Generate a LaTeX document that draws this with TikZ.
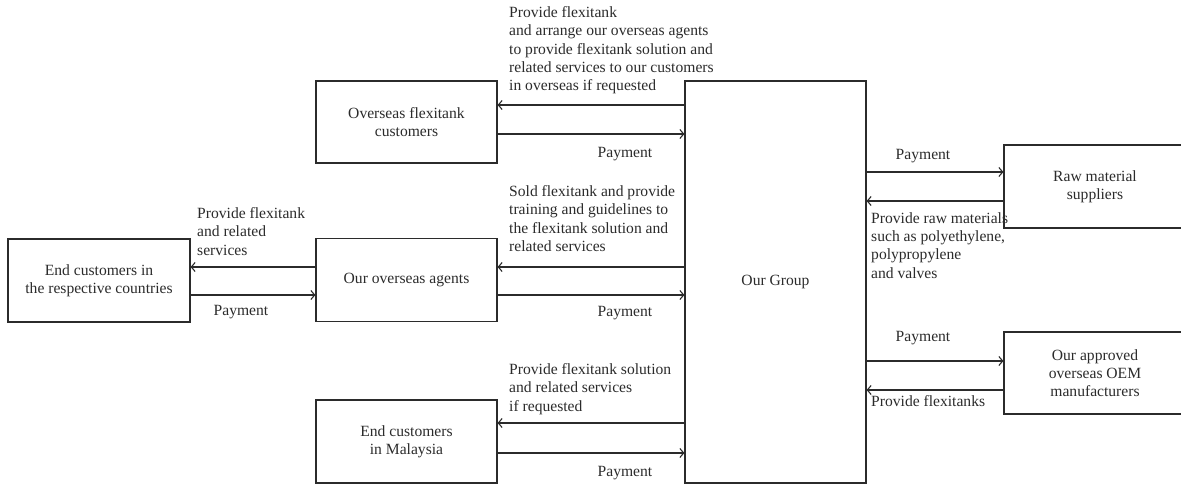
\documentclass[tikz,border=0pt]{standalone}
\usepackage{fontspec}
\setmainfont{Liberation Serif}
\usetikzlibrary{arrows.meta}
\definecolor{ink}{HTML}{2B2B2B}
\begin{document}
\begin{tikzpicture}[x=1pt,y=-1pt,
  font=\fontsize{15.6}{18.3}\selectfont,
  every node/.style={text=ink},
  box/.style={draw=ink, line width=1.2pt, minimum width=181pt,
    minimum height=82pt, align=center, inner sep=0pt},
  lbl/.style={align=left, anchor=north west, inner sep=0pt},
  pay/.style={inner sep=0pt},
  arr/.style={draw=ink, line width=1.1pt,
    -{Straight Barb[length=3.8pt,width=9pt]}}]
\clip (0,0) rectangle (1181,484);

% parties
\node[box] (over) at (406.5,122) {Overseas flexitank\\customers};
\node[box, minimum height=83pt] (agents) at (406.5,280) {Our overseas agents};
\node[box, minimum height=83pt] (malay) at (406.5,441.5) {End customers\\in Malaysia};
\node[box, minimum width=182pt, minimum height=83pt] (endc) at (99,280.5)
  {End customers in\\the respective countries};
\node[box, minimum height=402pt] (group) at (775.5,282) {Our Group};
\node[box, minimum width=182pt, minimum height=83pt] (raw) at (1095,186.5)
  {Raw material\\suppliers};
\node[box, minimum width=182pt] (oem) at (1095,373)
  {Our approved\\overseas OEM\\manufacturers};

% flows between the group and its customers
\draw[arr] (group.west |- 0,105) -- (over.east |- 0,105);
\draw[arr] (over.east |- 0,134) -- (group.west |- 0,134);
\draw[arr] (group.west |- 0,267) -- (agents.east |- 0,267);
\draw[arr] (agents.east |- 0,295) -- (group.west |- 0,295);
\draw[arr] (group.west |- 0,423) -- (malay.east |- 0,423);
\draw[arr] (malay.east |- 0,453) -- (group.west |- 0,453);
\draw[arr] (agents.west |- 0,267) -- (endc.east |- 0,267);
\draw[arr] (endc.east |- 0,295) -- (agents.west |- 0,295);

% flows between the group and its suppliers
\draw[arr] (group.east |- 0,172) -- (raw.west |- 0,172);
\draw[arr] (raw.west |- 0,201) -- (group.east |- 0,201);
\draw[arr] (group.east |- 0,361) -- (oem.west |- 0,361);
\draw[arr] (oem.west |- 0,390) -- (group.east |- 0,390);

% flow labels
\node[lbl] (l1) at (509,6.3) {Provide flexitank\\and arrange our overseas agents\\to provide flexitank solution and\\related services to our customers\\in overseas if requested};
\node[lbl] (l2) at (509,185.3) {Sold flexitank and provide\\training and guidelines to\\the flexitank solution and\\related services};
\node[lbl] (l3) at (509,363.3) {Provide flexitank solution\\and related services\\if requested};
\node[lbl] (l4) at (197,207.3) {Provide flexitank\\and related\\services};
\node[lbl] (l5) at (871,212.3) {Provide raw materials\\such as polyethylene,\\polypropylene\\and valves};
\node[lbl] (l6) at (871,395.3) {Provide flexitanks};

\node[pay] (p1) at (625,154) {Payment};
\node[pay] (p2) at (625,313) {Payment};
\node[pay] (p3) at (625,473) {Payment};
\node[pay] (p4) at (241,312) {Payment};
\node[pay] (p5) at (923,156) {Payment};
\node[pay] (p6) at (923,338) {Payment};
\end{tikzpicture}
\end{document}
